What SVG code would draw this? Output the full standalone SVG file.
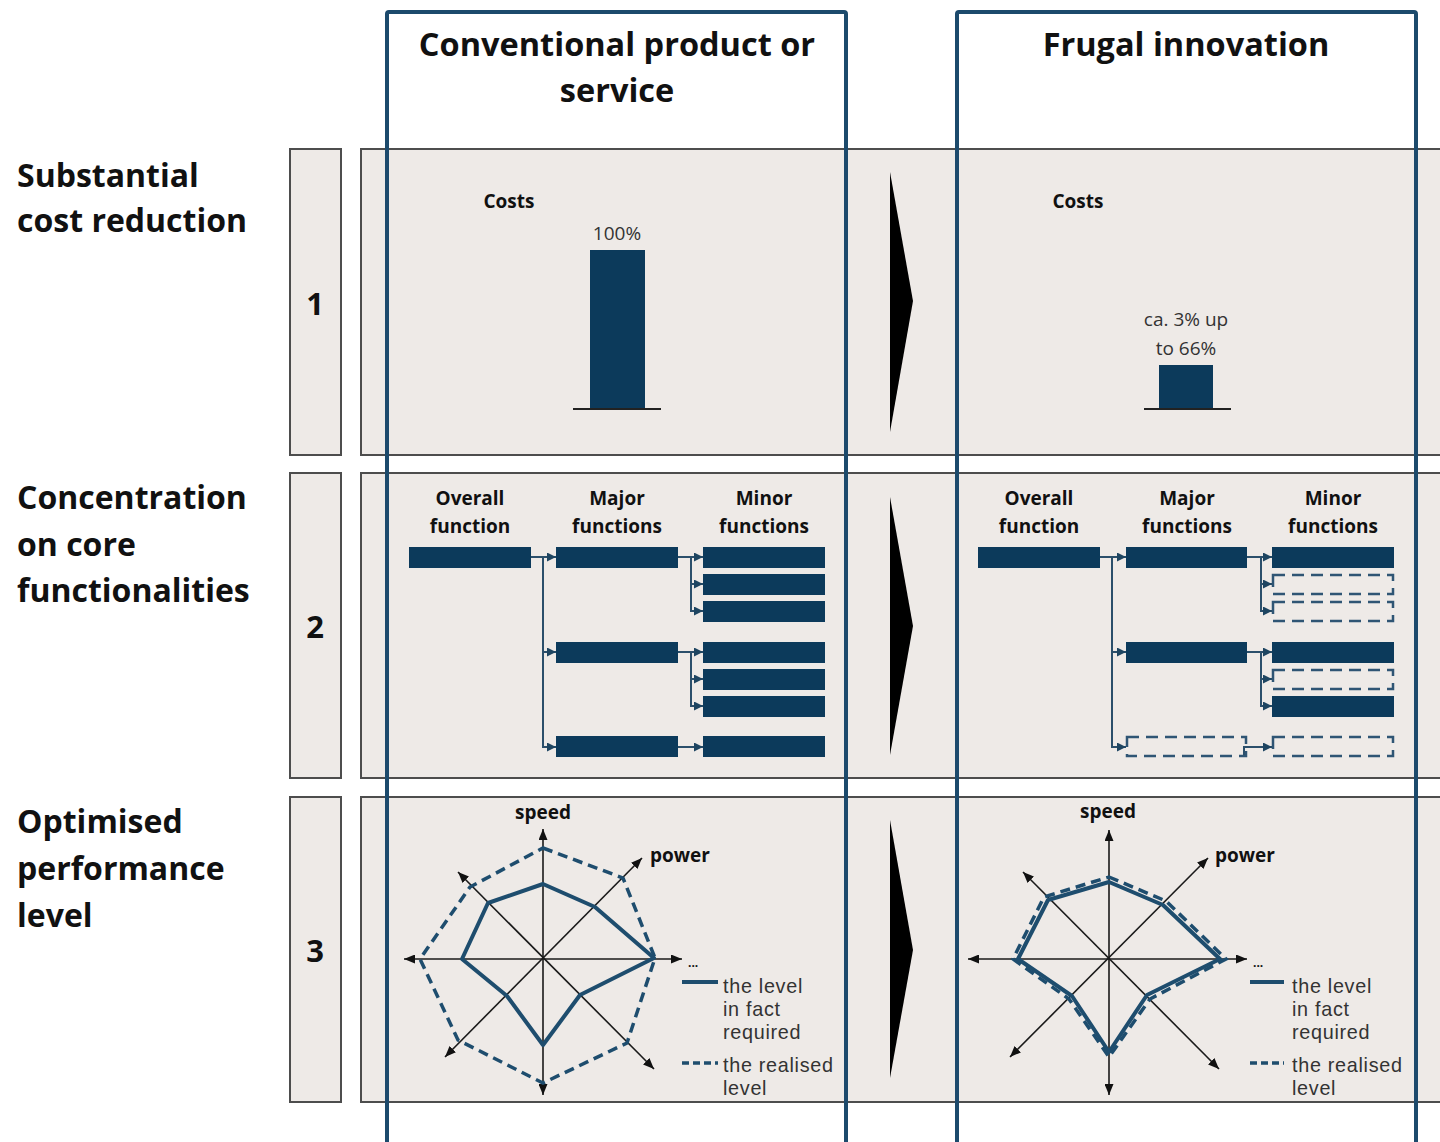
<svg xmlns="http://www.w3.org/2000/svg" width="1440" height="1142" viewBox="0 0 1440 1142">
<defs>
<style>
text{font-family:"Open Sans","Liberation Sans",sans-serif;fill:#111}
.hd{font-size:32.5px;font-weight:bold}
.rl{font-size:32px;font-weight:bold}
.num{font-size:31px;font-weight:bold;text-anchor:middle}
.lb{font-size:19px;font-weight:bold;text-anchor:middle}
.pc{font-size:19px;text-anchor:middle;fill:#333}
.lg{font-family:"Liberation Sans",Arial,sans-serif;font-size:19.8px;letter-spacing:0.7px;fill:#333}
.panel{fill:#eeeae7;stroke:#4d4d4d;stroke-width:2}
.col{fill:none;stroke:#1c4a6c;stroke-width:4}
.bar{fill:#0c3a5b}
.dbar{fill:none;stroke:#2f5574;stroke-width:2.5;stroke-dasharray:12 7}
.base{stroke:#222;stroke-width:2}
.conn{fill:none;stroke:#2b4f6b;stroke-width:2}
.axis{fill:none;stroke:#1a1a1a;stroke-width:1.6}
.req{fill:none;stroke:#1e4d6e;stroke-width:4;stroke-linejoin:round}
.real{fill:none;stroke:#1e4d6e;stroke-width:3.5;stroke-dasharray:10 6}
.tri{fill:#000}
</style>
<marker id="ah" markerUnits="userSpaceOnUse" markerWidth="9" markerHeight="9" refX="9" refY="4.5" orient="auto"><path d="M0,0 L9,4.5 L0,9 z" fill="#1e4561"/></marker>
<marker id="ax" markerUnits="userSpaceOnUse" markerWidth="11" markerHeight="9" refX="11" refY="4.5" orient="auto-start-reverse"><path d="M0,0 L11,4.5 L0,9 z" fill="#111"/></marker>
</defs>
<rect x="0" y="0" width="1440" height="1142" fill="#fff"/>

<g id="row-labels">
<text class="rl" x="17" y="187">Substantial</text>
<text class="rl" x="17" y="232">cost reduction</text>
<text class="rl" x="17" y="509">Concentration</text>
<text class="rl" x="17" y="556">on core</text>
<text class="rl" x="17" y="602">functionalities</text>
<text class="rl" x="17" y="833">Optimised</text>
<text class="rl" x="17" y="880">performance</text>
<text class="rl" x="17" y="927">level</text>
</g>

<g id="tag-1"><rect class="panel" x="290" y="149" width="51" height="306"/><text class="num" x="315" y="315">1</text></g>
<g id="tag-2"><rect class="panel" x="290" y="473" width="51" height="305"/><text class="num" x="315" y="638">2</text></g>
<g id="tag-3"><rect class="panel" x="290" y="797" width="51" height="305"/><text class="num" x="315" y="962">3</text></g>

<g id="panel-1"><rect class="panel" x="361" y="149" width="1090" height="306"/></g>
<g id="panel-2"><rect class="panel" x="361" y="473" width="1090" height="305"/></g>
<g id="panel-3"><rect class="panel" x="361" y="797" width="1090" height="305"/></g>

<g id="transition-arrows">
<path class="tri" d="M890,172 L913,301 L890,432 z"/>
<path class="tri" d="M890,497 L913,626 L890,755 z"/>
<path class="tri" d="M890,820 L913,950 L890,1078 z"/>
</g>

<g id="costs-conventional">
<text class="lb" x="509" y="208">Costs</text>
<text class="pc" x="617" y="240">100%</text>
<rect class="bar" x="590" y="250" width="55" height="159"/>
<line class="base" x1="573" y1="409" x2="661" y2="409"/>
</g>
<g id="costs-frugal">
<text class="lb" x="1078" y="208">Costs</text>
<text class="pc" x="1186" y="326">ca. 3% up</text>
<text class="pc" x="1186" y="355">to 66%</text>
<rect class="bar" x="1159" y="365" width="54" height="44"/>
<line class="base" x1="1144" y1="409" x2="1231" y2="409"/>
</g>

<g id="functions-conventional">
<text class="lb" x="470" y="505">Overall</text><text class="lb" x="470" y="533">function</text>
<text class="lb" x="617" y="505">Major</text><text class="lb" x="617" y="533">functions</text>
<text class="lb" x="764" y="505">Minor</text><text class="lb" x="764" y="533">functions</text>
<rect class="bar" x="409" y="547" width="122" height="21"/>
<rect class="bar" x="556" y="547" width="122" height="21"/>
<rect class="bar" x="556" y="642" width="122" height="21"/>
<rect class="bar" x="556" y="736" width="122" height="21"/>
<rect class="bar" x="703" y="547" width="122" height="21"/>
<rect class="bar" x="703" y="574" width="122" height="21"/>
<rect class="bar" x="703" y="601" width="122" height="21"/>
<rect class="bar" x="703" y="642" width="122" height="21"/>
<rect class="bar" x="703" y="669" width="122" height="21"/>
<rect class="bar" x="703" y="696" width="122" height="21"/>
<rect class="bar" x="703" y="736" width="122" height="21"/>
</g>
<g id="functions-frugal">
<text class="lb" x="1039" y="505">Overall</text><text class="lb" x="1039" y="533">function</text>
<text class="lb" x="1187" y="505">Major</text><text class="lb" x="1187" y="533">functions</text>
<text class="lb" x="1333" y="505">Minor</text><text class="lb" x="1333" y="533">functions</text>
<rect class="bar" x="978" y="547" width="122" height="21"/>
<rect class="bar" x="1126" y="547" width="121" height="21"/>
<rect class="bar" x="1126" y="642" width="121" height="21"/>
<rect class="dbar" x="1127" y="737" width="119" height="19"/>
<rect class="bar" x="1272" y="547" width="122" height="21"/>
<rect class="dbar" x="1273" y="575" width="120" height="19"/>
<rect class="dbar" x="1273" y="602" width="120" height="19"/>
<rect class="bar" x="1272" y="642" width="122" height="21"/>
<rect class="dbar" x="1273" y="670" width="120" height="19"/>
<rect class="bar" x="1272" y="696" width="122" height="21"/>
<rect class="dbar" x="1273" y="737" width="120" height="19"/>
</g>

<g id="connectors">
<path class="conn" marker-end="url(#ah)" d="M531,557 H556"/>
<path class="conn" marker-end="url(#ah)" d="M543,557 V747 H556"/>
<path class="conn" marker-end="url(#ah)" d="M543,652 H556"/>
<path class="conn" marker-end="url(#ah)" d="M678,557 H703"/>
<path class="conn" marker-end="url(#ah)" d="M691,557 V611 H703"/>
<path class="conn" marker-end="url(#ah)" d="M691,584 H703"/>
<path class="conn" marker-end="url(#ah)" d="M678,652 H703"/>
<path class="conn" marker-end="url(#ah)" d="M691,652 V706 H703"/>
<path class="conn" marker-end="url(#ah)" d="M691,679 H703"/>
<path class="conn" marker-end="url(#ah)" d="M678,747 H703"/>
<path class="conn" marker-end="url(#ah)" d="M1100,557 H1126"/>
<path class="conn" marker-end="url(#ah)" d="M1112,557 V747 H1126"/>
<path class="conn" marker-end="url(#ah)" d="M1112,652 H1126"/>
<path class="conn" marker-end="url(#ah)" d="M1247,557 H1272"/>
<path class="conn" marker-end="url(#ah)" d="M1261,557 V611 H1272"/>
<path class="conn" marker-end="url(#ah)" d="M1261,584 H1272"/>
<path class="conn" marker-end="url(#ah)" d="M1247,652 H1272"/>
<path class="conn" marker-end="url(#ah)" d="M1261,652 V706 H1272"/>
<path class="conn" marker-end="url(#ah)" d="M1261,679 H1272"/>
<path class="conn" marker-end="url(#ah)" d="M1244,755 V747 H1272"/>
</g>

<g id="radar-conventional">
<line class="axis" marker-start="url(#ax)" marker-end="url(#ax)" x1="543" y1="1095" x2="543" y2="829"/>
<line class="axis" marker-start="url(#ax)" marker-end="url(#ax)" x1="404" y1="959" x2="682" y2="959"/>
<line class="axis" marker-start="url(#ax)" marker-end="url(#ax)" x1="445" y1="1057" x2="642" y2="858"/>
<line class="axis" marker-start="url(#ax)" marker-end="url(#ax)" x1="458" y1="872" x2="654" y2="1069"/>
<polygon class="real" points="543,848 623,878 655,958 627,1043 543,1083 458,1040 420,959 470,887"/>
<polygon class="req" points="543,884 595,907 654,958 580,995 543,1045 507,996 462,959 488,903"/>
<text class="lb" x="543" y="819">speed</text>
<text class="lb" x="650" y="862" style="text-anchor:start">power</text>
<text class="lb" x="688" y="967" style="text-anchor:start;font-size:12px">...</text>
<line class="req" x1="682" y1="982" x2="718" y2="982"/>
<text class="lg" x="723" y="993">the level</text>
<text class="lg" x="723" y="1016">in fact</text>
<text class="lg" x="723" y="1039">required</text>
<line class="real" style="stroke-dasharray:7 4" x1="682" y1="1063" x2="718" y2="1063"/>
<text class="lg" x="723" y="1072">the realised</text>
<text class="lg" x="723" y="1095">level</text>
</g>

<g id="radar-frugal">
<line class="axis" marker-start="url(#ax)" marker-end="url(#ax)" x1="1109" y1="1095" x2="1109" y2="830"/>
<line class="axis" marker-start="url(#ax)" marker-end="url(#ax)" x1="968" y1="959" x2="1247" y2="959"/>
<line class="axis" marker-start="url(#ax)" marker-end="url(#ax)" x1="1010" y1="1057" x2="1208" y2="858"/>
<line class="axis" marker-start="url(#ax)" marker-end="url(#ax)" x1="1023" y1="872" x2="1219" y2="1069"/>
<polygon class="real" points="1109,877 1166,901 1226,959 1150,999 1109,1057 1069,999 1013,959 1044,897"/>
<polygon class="req" points="1109,882 1163,905 1220,959 1147,995 1109,1052 1072,996 1018,959 1048,900"/>
<text class="lb" x="1108" y="818">speed</text>
<text class="lb" x="1215" y="862" style="text-anchor:start">power</text>
<text class="lb" x="1253" y="967" style="text-anchor:start;font-size:12px">...</text>
<line class="req" x1="1250" y1="982" x2="1284" y2="982"/>
<text class="lg" x="1292" y="993">the level</text>
<text class="lg" x="1292" y="1016">in fact</text>
<text class="lg" x="1292" y="1039">required</text>
<line class="real" style="stroke-dasharray:7 4" x1="1250" y1="1063" x2="1284" y2="1063"/>
<text class="lg" x="1292" y="1072">the realised</text>
<text class="lg" x="1292" y="1095">level</text>
</g>

<g id="column-conventional">
<rect class="col" x="387" y="12" width="459" height="1150" rx="2"/>
<text class="hd" x="617" y="56" text-anchor="middle">Conventional product or</text>
<text class="hd" x="617" y="102" text-anchor="middle">service</text>
</g>
<g id="column-frugal">
<rect class="col" x="957" y="12" width="459" height="1150" rx="2"/>
<text class="hd" x="1186" y="56" text-anchor="middle">Frugal innovation</text>
</g>
</svg>
